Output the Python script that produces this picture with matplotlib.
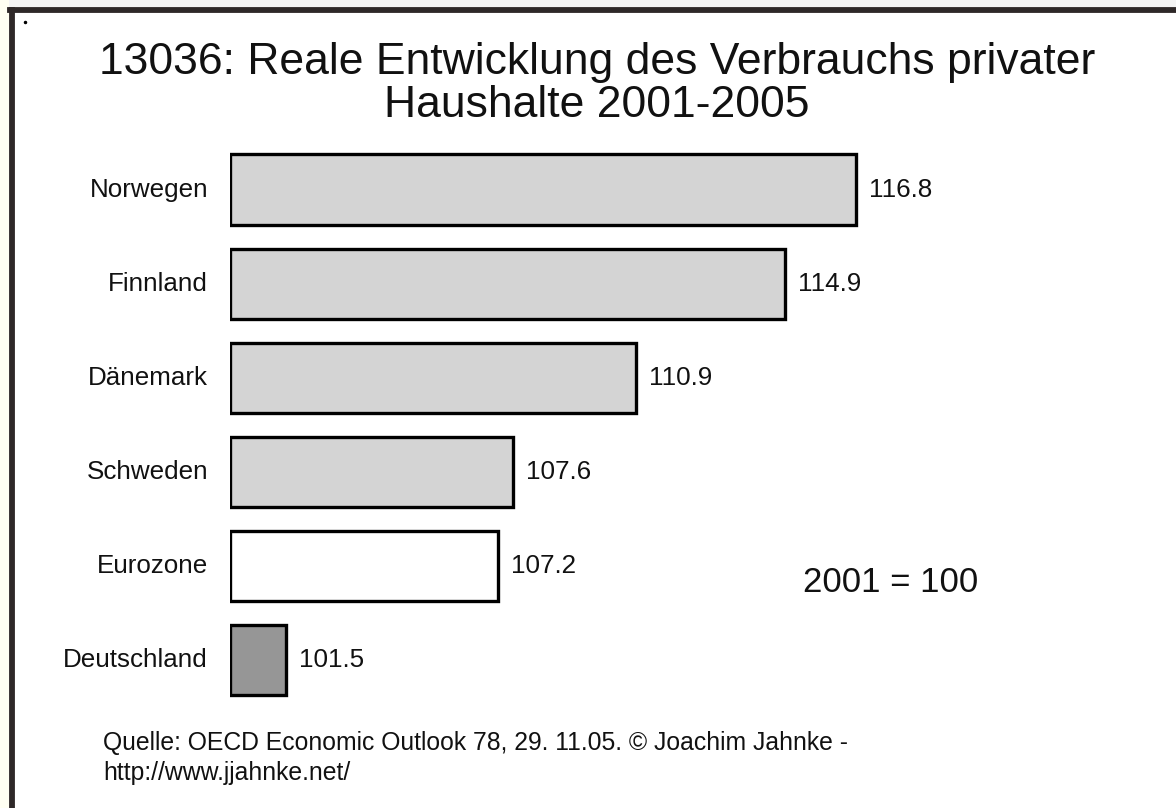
import matplotlib
matplotlib.use("Agg")
import matplotlib.pyplot as plt
from matplotlib.patches import Rectangle
from matplotlib.lines import Line2D

categories = ["Norwegen", "Finnland", "Dänemark", "Schweden", "Eurozone", "Deutschland"]
values = [116.8, 114.9, 110.9, 107.6, 107.2, 101.5]
value_labels = ["116.8", "114.9", "110.9", "107.6", "107.2", "101.5"]
bar_colors = ["#d4d4d4", "#d4d4d4", "#d4d4d4", "#d4d4d4", "#ffffff", "#969696"]
base = 100
title = "13036: Reale Entwicklung des Verbrauchs privater\nHaushalte 2001-2005"
note = "2001 = 100"
source = "Quelle: OECD Economic Outlook 78, 29. 11.05. © Joachim Jahnke -\nhttp://www.jjahnke.net/"

plt.rcParams['font.family'] = ['Liberation Sans', 'DejaVu Sans']

W, H = 1176, 808
fig = plt.figure(figsize=(W/100, H/100), dpi=100)
fig.patch.set_facecolor("white")

# frame (left strip, top and left border)
fig.add_artist(Rectangle((0, 0), 9/W, 1, transform=fig.transFigure, facecolor="#fffff2", edgecolor="none"))
fig.add_artist(Rectangle((9/W, 1-7/H), 1-9/W, 7/H, transform=fig.transFigure, facecolor="#f4f4f4", edgecolor="none"))
fig.add_artist(Line2D([11.5/W, 11.5/W], [0, 1-9.5/H], transform=fig.transFigure, color="#2e2828", lw=4.2))
fig.add_artist(Line2D([9.5/W, 1], [1-9.5/H, 1-9.5/H], transform=fig.transFigure, color="#2e2828", lw=4.2))
fig.add_artist(Line2D([25/W], [1-22/H], transform=fig.transFigure, marker='o', ms=1.5, color="black", lw=0))

px_per_unit = 37.26
ax_left_px, ax_right_px = 230, 1100
top_px, bot_px = 142.5, 707
ax = fig.add_axes([ax_left_px/W, 1-bot_px/H, (ax_right_px-ax_left_px)/W, (bot_px-top_px)/H])
ax.set_xlim(base, base + (ax_right_px-ax_left_px)/px_per_unit)
ax.set_ylim(len(categories)-0.5, -0.5)
ax.axis("off")

ypos = list(range(len(categories)))
ax.barh(ypos, [v - base for v in values], left=base, height=0.745,
        color=bar_colors, edgecolor="black", linewidth=2.4)
for y, v, lab, cat in zip(ypos, values, value_labels, categories):
    ax.annotate(lab, (v, y), xytext=(13, 0), textcoords="offset pixels",
                va="center", ha="left", fontsize=18.7, color="#111111")
    ax.annotate(cat, (base, y), xytext=(-22, 0), textcoords="offset pixels",
                va="center", ha="right", fontsize=18.7, color="#111111")

fig.text(597/W, 1-84/H, title, ha="center", va="center", fontsize=32, linespacing=1.07, color="#111111")
fig.text(803/W, 1-582/H, note, ha="left", va="center", fontsize=25, color="#111111")
fig.text(103/W, 1-758/H, source, ha="left", va="center", fontsize=17.8, linespacing=1.33, color="#111111")

fig.savefig("out.png", dpi=100, facecolor=fig.get_facecolor())
